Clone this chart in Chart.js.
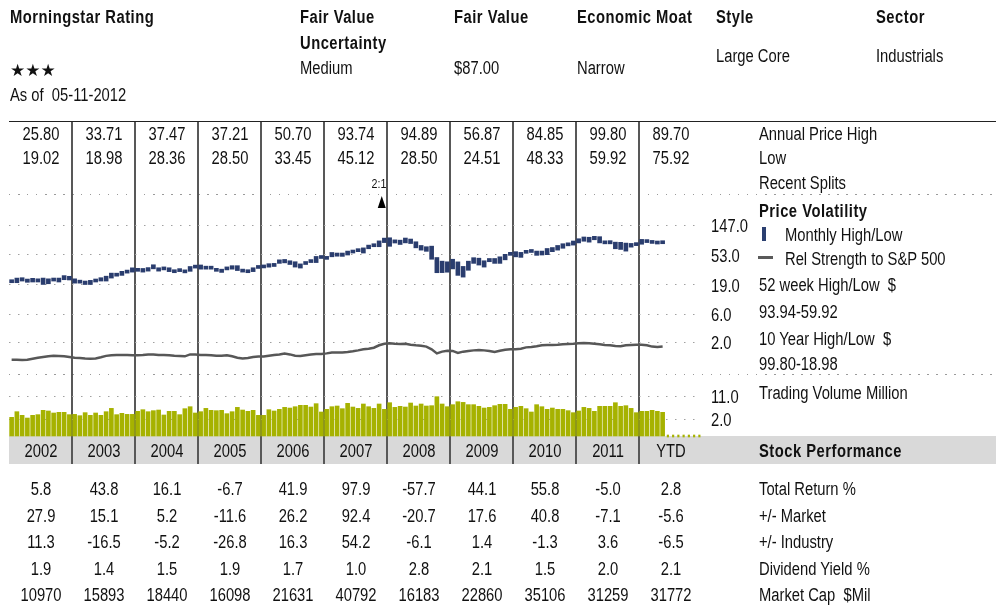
<!DOCTYPE html>
<html><head><meta charset="utf-8">
<script src="https://cdn.jsdelivr.net/npm/chart.js@4.4.1/dist/chart.umd.min.js"></script>
<style>
html,body{margin:0;padding:0;background:#fff;}
body{width:996px;height:611px;position:relative;overflow:hidden;font-family:"Liberation Sans",Arial,sans-serif;font-size:18px;color:#111;}
.t{position:absolute;white-space:nowrap;line-height:20px;height:20px;transform-origin:0 50%;transform:scaleX(0.82);}
.b{font-weight:bold;letter-spacing:0.6px;}
.c{transform-origin:50% 50%;transform:translateX(-50%) scaleX(0.82);text-align:center;}
.s{font-size:13px;}
.star{font-family:"DejaVu Sans",sans-serif;font-size:17px;transform:none;}
#band{position:absolute;left:9px;top:436px;width:987px;height:28px;background:#d9d9d9;}
#topline{position:absolute;left:9px;top:121px;width:987px;height:1px;background:#222;}
.dots{position:absolute;left:9px;width:987px;height:1px;background:repeating-linear-gradient(to right,#9a9a9a 0 1.5px,transparent 1.5px 9px);}
canvas{position:absolute;left:0;top:0;}
#legendBar{position:absolute;left:762px;top:227px;width:4px;height:14px;background:#2b3f70;}
#legendLine{position:absolute;left:758px;top:256px;width:15px;height:3px;background:#5a5a5a;}
</style></head>
<body>
<div id="band"></div>
<div id="topline"></div>
<div class="dots" style="top:194px"></div>
<div class="dots" style="top:374px"></div>
<canvas id="c" width="996" height="611"></canvas>
<div id="legendBar"></div>
<div id="legendLine"></div>
<div id="labels"></div>
<script>
// ---------------- data ----------------
const years = ['2002','2003','2004','2005','2006','2007','2008','2009','2010','2011','YTD'];
const annualHigh = ['25.80','33.71','37.47','37.21','50.70','93.74','94.89','56.87','84.85','99.80','89.70'];
const annualLow  = ['19.02','18.98','28.36','28.50','33.45','45.12','28.50','24.51','48.33','59.92','75.92'];
const totalReturn = ['5.8','43.8','16.1','-6.7','41.9','97.9','-57.7','44.1','55.8','-5.0','2.8'];
const vsMarket    = ['27.9','15.1','5.2','-11.6','26.2','92.4','-20.7','17.6','40.8','-7.1','-5.6'];
const vsIndustry  = ['11.3','-16.5','-5.2','-26.8','16.3','54.2','-6.1','1.4','-1.3','3.6','-6.5'];
const divYield    = ['1.9','1.4','1.5','1.9','1.7','1.0','2.8','2.1','1.5','2.0','2.1'];
const marketCap   = ['10970','15893','18440','16098','21631','40792','16183','22860','35106','31259','31772'];

// monthly high / low prices, Jan 2002 .. May 2012
const monthlyHigh = [
 21.9,23.7,24.0,22.9,23.5,23.1,23.7,23.1,23.1,23.7,25.80,25.2,
 23.1,21.4,21.4,21.9,22.2,24.0,25.3,28.1,27.4,29.9,31.2,33.71,
 33.0,33.0,34.0,37.47,33.8,34.0,33.8,31.4,31.7,31.4,35.3,36.2,
 37.21,34.0,35.0,33.0,32.2,33.8,36.3,36.3,32.2,30.7,33.8,34.6,
 36.3,38.9,39.3,44.4,45.0,43.0,41.6,38.6,41.6,44.4,49.9,50.70,
 49.2,57.2,56.1,56.1,60.0,62.0,65.0,67.0,73.7,77.3,85.2,93.74,
 94.89,88.3,87.4,94.0,90.8,82.7,72.8,69.7,71.1,48.1,42.4,41.5,
 45.3,41.4,35.4,42.4,47.8,47.0,43.0,46.5,46.5,49.3,53.7,56.87,
 58.8,57.4,60.9,62.0,60.0,60.0,65.6,67.8,72.8,77.3,79.0,84.85,
 91.8,97.5,96.6,99.80,98.5,85.2,85.9,81.6,81.1,79.0,78.1,79.5,
 89.70,88.6,84.2,83.5,84.2];
const monthlyLow = [
 20.2,20.2,21.4,20.5,20.7,20.7,19.02,19.5,21.4,20.7,22.4,22.2,
 19.9,19.9,18.98,19.0,20.7,21.4,21.4,23.7,25.3,26.0,28.1,29.1,
 29.9,29.1,30.1,32.6,30.1,31.4,29.6,28.5,29.6,28.36,29.9,33.4,
 32.2,32.2,32.2,29.9,28.8,31.4,32.2,30.7,29.1,28.50,29.6,33.0,
 33.6,34.5,35.3,39.3,40.0,37.8,34.6,33.45,37.8,40.4,40.4,46.5,
 45.12,49.3,50.3,50.0,52.4,56.1,58.8,56.1,65.0,69.7,69.7,80.4,
 70.7,79.2,75.3,79.6,77.8,67.1,62.0,59.5,45.3,28.50,28.6,29.0,
 32.5,26.0,24.51,31.0,39.3,37.1,34.6,41.6,39.3,39.3,44.4,51.8,
 49.2,48.33,55.6,57.2,51.8,52.4,53.0,58.8,62.0,66.1,71.9,73.7,
 79.5,84.2,81.6,88.6,79.5,77.0,77.0,65.0,63.5,59.92,68.7,72.4,
 75.92,80.4,78.1,76.5,77.3];
// relative strength to S&P 500
const relStrength = [
 1.00,1.00,0.99,1.00,1.04,1.08,1.11,1.14,1.17,1.16,1.14,1.11,
 1.08,1.07,1.05,1.04,1.05,1.10,1.16,1.19,1.20,1.20,1.20,1.19,
 1.19,1.20,1.23,1.22,1.20,1.20,1.19,1.17,1.16,1.14,1.23,1.23,
 1.20,1.20,1.19,1.17,1.17,1.19,1.14,1.08,1.05,1.07,1.11,1.13,
 1.13,1.17,1.20,1.23,1.27,1.23,1.17,1.16,1.19,1.22,1.25,1.25,
 1.28,1.33,1.33,1.33,1.35,1.39,1.44,1.50,1.54,1.60,1.76,1.87,
 1.90,1.87,1.85,1.87,1.80,1.76,1.73,1.67,1.50,1.28,1.37,1.42,
 1.41,1.30,1.37,1.41,1.44,1.46,1.44,1.41,1.35,1.42,1.48,1.50,
 1.50,1.54,1.62,1.64,1.69,1.76,1.78,1.78,1.80,1.83,1.85,1.87,
 1.90,1.92,1.90,1.87,1.83,1.78,1.76,1.71,1.69,1.76,1.78,1.80,
 1.80,1.76,1.67,1.64,1.67];
// trading volume (million)
const volume = [
 2.26,3.44,2.62,2.15,2.62,2.76,3.80,3.62,3.12,3.28,3.28,2.76,
 2.82,2.56,3.20,2.62,3.12,2.62,3.44,4.40,2.76,3.04,2.82,2.82,
 3.53,3.99,3.44,3.71,3.89,2.69,3.53,3.53,2.76,4.30,4.98,3.12,
 3.44,4.40,3.80,3.71,3.80,2.97,3.44,4.74,3.89,3.53,3.80,2.62,
 2.62,3.99,3.62,4.09,4.74,4.51,4.98,5.51,5.51,4.86,6.23,3.36,
 4.09,4.98,5.24,4.30,6.38,4.86,4.40,6.08,4.98,4.40,6.08,4.09,
 6.70,4.74,5.11,4.86,6.54,5.24,6.08,5.24,5.37,10.46,6.08,4.98,
 5.79,7.21,6.86,5.79,5.79,5.11,4.51,4.74,5.37,5.93,5.93,4.09,
 4.74,5.11,4.30,3.36,5.79,4.98,4.09,4.51,4.09,4.09,3.71,3.20,
 3.62,4.74,4.40,3.53,5.11,5.11,5.11,6.70,5.11,5.37,4.40,3.20,
 3.53,3.53,3.80,3.53,3.28];
const futureMonths = [125,126,127,128,129,130,131];
const splits = [{month: 71, label: '2:1'}];
const priceTicks = [147, 53, 19];
const rsTicks = [6, 2];
const volTicks = [11, 2];

// ---------------- layout helpers ----------------
const AREA_TOP = 122, AREA_BOTTOM = 464;
// log axis range so that v1 sits at pixel y1 and v2 at y2
function logRange(v1, y1, v2, y2) {
  const k = (y2 - y1) / Math.log(v1 / v2);
  const at = y => v1 * Math.exp((y1 - y) / k);
  return {min: at(AREA_BOTTOM), max: at(AREA_TOP), at};
}
const priceR = logRange(99.80, 236.3, 19, 284.5);
const rsR = logRange(6, 314, 2, 342);
const volR = logRange(11, 396, 2, 419);
const volBase = volR.at(436);

function yAxis(r, ticks) {
  return {
    type: 'logarithmic', position: 'right', min: r.min, max: r.max, bounds: 'data',
    ticks: {display: false},
    grid: {color: '#a0a0a0', lineWidth: 1, drawTicks: false},
    border: {display: false, dash: [1.5, 7.5]},
    afterBuildTicks: s => { s.ticks = ticks.map(v => ({value: v})); }
  };
}

const overlay = {
  id: 'overlay',
  afterDraw(chart) {
    const xs = chart.scales.x, ctx = chart.ctx;
    // split marker
    splits.forEach(sp => {
      const x = xs.getPixelForValue(sp.month);
      ctx.save(); ctx.fillStyle = '#000'; ctx.beginPath();
      ctx.moveTo(x, 196); ctx.lineTo(x + 4, 208); ctx.lineTo(x - 4, 208); ctx.closePath(); ctx.fill(); ctx.restore();
    });
    if (chart._overlayDone) return;
    chart._overlayDone = true;
    const layer = document.getElementById('labels');
    const put = (text, x, cy, cls) => {
      const d = document.createElement('div');
      d.className = 't ' + (cls || '');
      d.textContent = text;
      d.style.left = x + 'px'; d.style.top = (cy - 10) + 'px';
      layer.appendChild(d);
    };
    const colX = i => xs.getPixelForValue(12 * i + 6);
    const rows = [[annualHigh,134],[annualLow,158],[years,451],[totalReturn,489],[vsMarket,516],[vsIndustry,542],[divYield,569],[marketCap,595]];
    rows.forEach(([arr, cy]) => arr.forEach((t, i) => put(t, colX(i), cy, 'c')));
    [['yPrice', priceTicks], ['yRS', rsTicks], ['yVol', volTicks]].forEach(([id, ticks]) => {
      const s = chart.scales[id];
      ticks.forEach(v => put(v.toFixed(1), 711, s.getPixelForValue(v) + 1, ''));
    });
    splits.forEach(sp => put(sp.label, xs.getPixelForValue(sp.month) - 3, 184, 'c s'));
  }
};

// header and right-hand labels
const staticText = [
  ['Morningstar Rating',10,17,'b'],['\u2605\u2605\u2605',10,70,'star'],['As of\u00a0 05-11-2012',10,95,''],
  ['Fair Value',300,17,'b'],['Uncertainty',300,43,'b'],['Medium',300,68,''],
  ['Fair Value',454,17,'b'],['$87.00',454,68,''],
  ['Economic Moat',577,17,'b'],['Narrow',577,68,''],
  ['Style',716,17,'b'],['Large Core',716,56,''],
  ['Sector',876,17,'b'],['Industrials',876,56,''],
  ['Annual Price High',759,134,''],['Low',759,158,''],['Recent Splits',759,183,''],
  ['Price Volatility',759,211,'b'],['Monthly High/Low',785,235,''],['Rel Strength to S&P 500',785,259,''],
  ['52 week High/Low\u00a0 $',759,285,''],['93.94-59.92',759,312,''],
  ['10 Year High/Low\u00a0 $',759,339,''],['99.80-18.98',759,364,''],
  ['Trading Volume Million',759,393,''],['Stock Performance',759,451,'b'],
  ['Total Return %',759,489,''],['+/- Market',759,516,''],['+/- Industry',759,542,''],
  ['Dividend Yield %',759,569,''],['Market Cap\u00a0 $Mil',759,595,'']
];
(function(){
  const layer = document.getElementById('labels');
  staticText.forEach(([t,x,cy,cls]) => {
    const d = document.createElement('div');
    d.className = 't ' + cls; d.textContent = t;
    d.style.left = x + 'px'; d.style.top = (cy - 10) + 'px';
    layer.appendChild(d);
  });
})();

new Chart(document.getElementById('c'), {
  type: 'bar',
  data: {
    datasets: [
      {
        type: 'bar', label: 'Monthly High/Low', yAxisID: 'yPrice',
        data: monthlyHigh.map((h, i) => ({x: i + 0.5, y: [monthlyLow[i], h]})),
        backgroundColor: '#2a3d6e', barThickness: 4, grouped: false, minBarLength: 3, order: 2
      },
      {
        type: 'line', label: 'Rel Strength to S&P 500', yAxisID: 'yRS',
        data: relStrength.map((v, i) => ({x: i + 0.5, y: v})),
        borderColor: '#575757', borderWidth: 2.5, pointRadius: 0, tension: 0, fill: false, order: 1
      },
      {
        type: 'bar', label: 'Trading Volume', yAxisID: 'yVol',
        data: volume.map((v, i) => ({x: i + 0.5, y: v})),
        backgroundColor: '#a6b200', barThickness: 4, grouped: false, base: volBase, order: 3
      },
      {
        type: 'bar', label: 'Future', yAxisID: 'yVol',
        data: futureMonths.map(m => ({x: m + 0.5, y: volBase})),
        backgroundColor: '#a6b200', barThickness: 1.5, grouped: false, base: volBase, minBarLength: 2, order: 4
      }
    ]
  },
  options: {
    responsive: false, animation: false,
    layout: {padding: {left: 9, right: 996 - 702, top: AREA_TOP, bottom: 611 - AREA_BOTTOM}},
    plugins: {legend: {display: false}, tooltip: {enabled: false}},
    scales: {
      x: {
        type: 'linear', min: 0, max: 132, offset: false, position: 'bottom',
        ticks: {display: false},
        grid: {color: '#585858', lineWidth: 2, drawTicks: false, offset: false},
        border: {display: false},
        afterBuildTicks: s => { s.ticks = years.slice(1).map((y, i) => ({value: 12 * (i + 1)})); }
      },
      yPrice: yAxis(priceR, priceTicks),
      yRS: yAxis(rsR, rsTicks),
      yVol: yAxis(volR, volTicks)
    }
  },
  plugins: [overlay]
});
</script>
</body></html>
